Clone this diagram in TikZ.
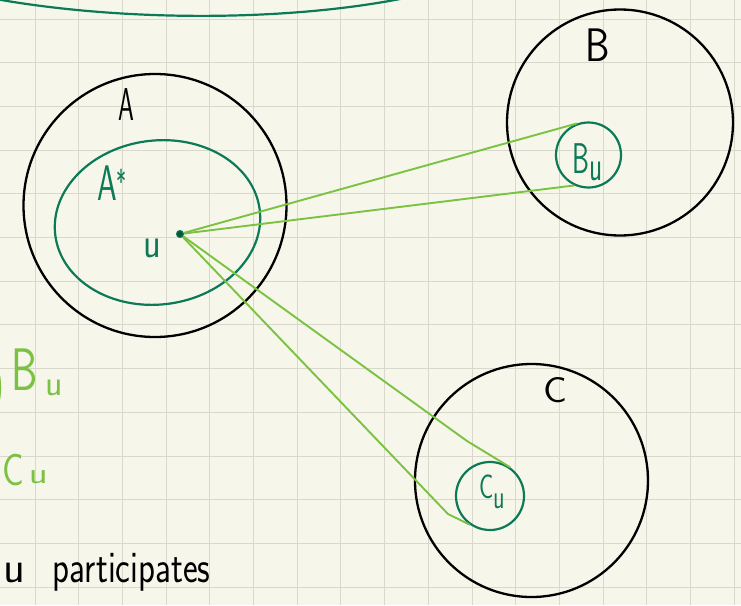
\documentclass[tikz,border=0pt]{standalone}
\usepackage{fontspec}
\usetikzlibrary{shapes.geometric}
\definecolor{paper}{HTML}{F7F6EB}
\definecolor{gridgray}{HTML}{D9D8CC}
\definecolor{deepgreen}{HTML}{0B7A56}
\definecolor{leaf}{HTML}{7CC242}
\newcommand{\hs}[2]{\scalebox{#1}[1]{#2}}
\newcommand{\fs}[1]{\fontsize{#1}{#1}\selectfont}
\begin{document}
\begin{tikzpicture}[x=1pt,y=-1pt,
  gridline/.style={gridgray,line width=1pt},
  ring/.style={circle,draw=black,line width=2.3pt,inner sep=0pt},
  subring/.style={circle,draw=deepgreen,line width=2.2pt,inner sep=0pt},
  link/.style={leaf,line width=1.9pt,line join=round},
  lbl/.style={inner sep=0pt,font=\sffamily,anchor=base}]
% paper and grid
\useasboundingbox (0,0) rectangle (741,605);
\fill[paper] (0,0) rectangle (741,605);
\clip (0,0) rectangle (741,605);
\foreach \i in {0,...,16} \draw[gridline] ({35+43.7*\i},0) -- ({35+43.7*\i},605);
\foreach \j in {0,...,13} \draw[gridline] (0,{19+43.7*\j}) -- (741,{19+43.7*\j});

% arc running along the top edge
\draw[deepgreen,line width=2.2pt] (-10,-2) .. controls (120,22) and (290,22) .. (410,-3);

% sets
\node[ring,minimum size=263pt] (A) at (155,205.5) {};
\node[ellipse,draw=deepgreen,line width=2.2pt,inner sep=0pt,
      minimum width=206pt,minimum height=164pt,rotate=7] (Astar) at (157.5,222.5) {};
\node[ring,minimum size=226pt] (B) at (620,122.5) {};
\node[subring,minimum size=65pt] (Bu) at (588.5,155) {};
\node[ring,minimum size=233pt] (C) at (531.5,480.5) {};
\node[subring,minimum size=68pt] (Cu) at (490,496) {};

% vertex u
\node[circle,draw=deepgreen,fill=deepgreen!70!black,line width=1pt,inner sep=0pt,minimum size=7pt] (u) at (180,234) {};

% links from u into B_u and C_u
\coordinate (cb1) at (467,441);
\coordinate (cb2) at (448,514);
\draw[link] (u) -- (Bu.110);
\draw[link] (u) -- (Bu.245);
\draw[link] (u) -- (cb1) -- (Cu.55);
\draw[link] (u) -- (cb2) -- (Cu.235);

% labels
\node[lbl,black] (labA) at (126.5,120) {\fs{46}\hs{0.55}{A}};
\node[lbl,deepgreen] (labAstar) at (112,200) {\fs{50}\hs{0.63}{A\raisebox{0.12em}{\fs{34}*}}};
\node[lbl,deepgreen] (labu) at (152.5,257) {\fs{43}\hs{0.85}{u}};
\node[lbl,black] (labB) at (597.5,61) {\fs{47}\hs{0.83}{B}};
\node[lbl,deepgreen] (labBu) at (587.5,173) {\fs{43}\hs{0.63}{B\raisebox{-0.18em}{u}}};
\node[lbl,black] (labC) at (555,402) {\fs{36}\hs{1.1}{C}};
\node[lbl,deepgreen] (labCu) at (492,498) {\fs{34}\hs{0.7}{C\raisebox{-0.3em}{u}}};

% notes along the left edge
\node[lbl,leaf,anchor=base east] (paren) at (5,400) {\fs{50}\hs{0.7}{)}};
\node[lbl,leaf,anchor=base west] (noteB) at (11,390) {\fs{60}\hs{0.7}{B}\hspace{8pt}\raisebox{-5pt}{\fs{36}u}};
\node[lbl,leaf,anchor=base west] (noteC) at (2,485) {\fs{45}\hs{0.8}{C}\hspace{5pt}\raisebox{2pt}{\fs{30}\hs{1.3}{u}}};
\node[lbl,black,anchor=base west] (noteP) at (3,582) {\fs{45}u\hspace{28pt}\hs{0.78}{participates}};
\end{tikzpicture}
\end{document}
